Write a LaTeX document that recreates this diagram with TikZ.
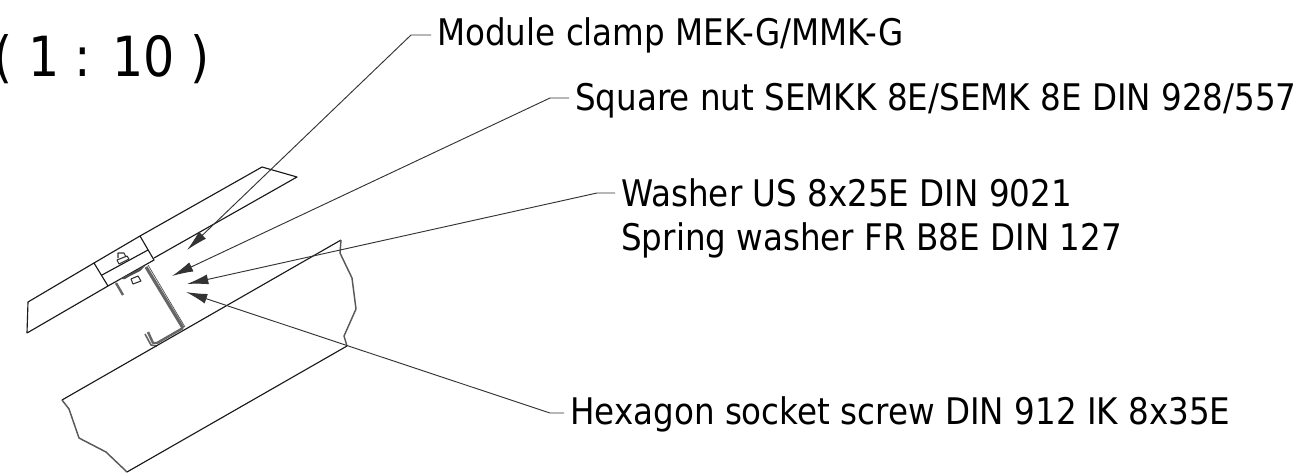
\documentclass[tikz,border=0pt]{standalone}
\usepackage{fontspec}
\setmainfont[FakeStretch=0.888]{DejaVu Sans}
\usetikzlibrary{arrows.meta}
\tikzset{
  x=0.75pt,y=-0.75pt,
  label text/.style={anchor=base west,inner ysep=0pt,inner xsep=4.5pt,font=\fontsize{27.5}{33}\selectfont,text=black},
  scale text/.style={anchor=base west,inner sep=0pt,font=\fontsize{41.5}{48}\selectfont,text=black},
  edge line/.style={draw=black!90,line width=0.85pt,line join=round},
  break line/.style={draw=black!65,line width=1.1pt,line join=round},
  detail/.style={draw=black!80,line width=0.8pt,line join=round},
  thick part/.style={draw=black!60,line width=2.4pt,line join=round},
  thin edge/.style={draw=black!70,line width=0.5pt,line join=round},
  leader/.style={draw=black!80,line width=0.7pt,-{Latex[length=16pt,width=7.5pt]}},
}
\begin{document}
\begin{tikzpicture}
\useasboundingbox (0,0) rectangle (1305,475);
% module panel
\draw[edge line] (94,263) -- (28,302) -- (27,333) -- (108,286);
\draw[edge line] (140,236) -- (262,167) -- (297,177) -- (154,258);
% clamp
\draw[edge line] (94,263) -- (140,236) -- (154,260) -- (108,286) -- cycle;
\draw[edge line] (102,275) -- (148,250);
% bolt and washer
\draw[detail] (118,258) -- (118,253) -- (124,253) -- (126,257);
\draw[detail] (117,260) -- (127,256) -- (129,259) -- (119,264) -- cycle;
% flange, nut, wedge
\draw[thick part,line width=1.8pt] (116,283) -- (123,295);
\draw[detail] (131,279) -- (138,276) -- (141,281) -- (133,284) -- cycle;
\fill[black!70] (120,279) -- (133,272) -- (145,266) -- (140,271) -- (130,276) -- (125,279) -- cycle;
% C profile
\draw[thick part] (146,267) -- (183,328);
\draw[thin edge] (148,265) -- (185,327);
\draw[thick part,line width=1.8pt] (183,328) -- (157,343) -- (153,343) -- (148,332);
\draw[thick part,line width=1.2pt] (145,334) -- (151,345) -- (157,346);
% rail
\draw[edge line] (341,240) -- (62,400);
\draw[break line] (62,400) -- (69,409) -- (79,438) -- (106,452) -- (127,472);
\draw[edge line] (127,472) -- (347,346);
\draw[break line] (341,240) -- (340,253) -- (352,278) -- (356,309) -- (344,336) -- (347,346);
% labels
\node[scale text] (scale) at (-7,76) {( 1 : 10 )};
\node[label text] (clamp) at (431,45) {Module clamp MEK-G/MMK-G};
\node[label text] (nut) at (569,110) {Square nut SEMKK 8E/SEMK 8E DIN 928/557};
\node[label text] (washer) at (615,206.5) {Washer US 8x25E DIN 9021};
\node[label text] (spring) at (615,250) {Spring washer FR B8E DIN 127};
\node[label text] (screw) at (564,424) {Hexagon socket screw DIN 912 IK 8x35E};
% leaders
\coordinate (clampbend) at (411,35);
\coordinate (clamptip) at (187,250);
\coordinate (nutbend) at (550,98);
\coordinate (nuttip) at (172,276);
\coordinate (washerbend) at (597,193);
\coordinate (washertip) at (187,284);
\coordinate (screwbend) at (550,413);
\coordinate (screwtip) at (186,292);
\draw[leader] (clamp.west |- clampbend) -- (clampbend) -- (clamptip);
\draw[leader] (nut.west |- nutbend) -- (nutbend) -- (nuttip);
\draw[leader] (washer.west |- washerbend) -- (washerbend) -- (washertip);
\draw[leader] (screw.west |- screwbend) -- (screwbend) -- (screwtip);
\end{tikzpicture}
\end{document}
